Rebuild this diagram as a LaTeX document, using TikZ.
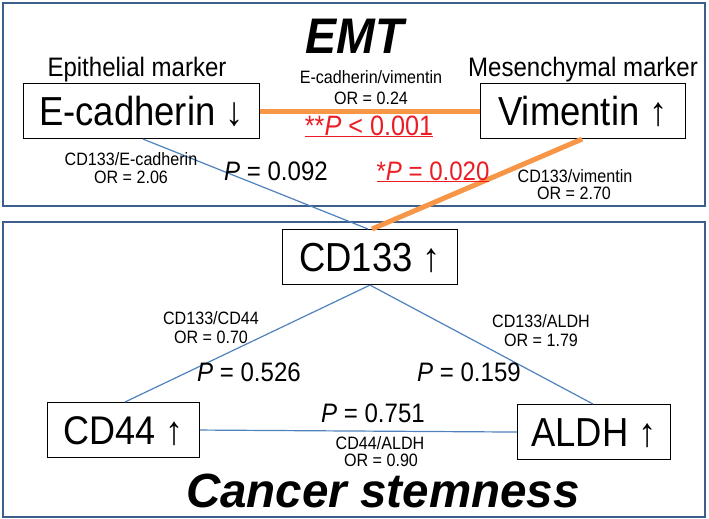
\documentclass[tikz,border=0pt]{standalone}
\usepackage{fontspec}
\setmainfont{Liberation Sans}
\usetikzlibrary{calc}
\definecolor{orng}{RGB}{247,150,70}
\definecolor{lblue}{RGB}{79,129,189}
\definecolor{frameblue}{RGB}{60,95,142}
\definecolor{pred}{RGB}{235,28,36}
\newcommand{\fsx}[3]{\scalebox{#2}[1]{\fontsize{#1pt}{#1pt}\selectfont #3}}
\begin{document}
\begin{tikzpicture}[x=1pt,y=-1pt,
  frame/.style={draw=frameblue,line width=2.2pt},
  box/.style={draw=black,line width=1.1pt,fill=white,inner sep=0pt,anchor=north west,text depth=0pt,text height=28.6pt},
  lbl/.style={inner sep=0pt,anchor=base},
  oline/.style={draw=orng,line width=5pt},
  bline/.style={draw=lblue,line width=1.2pt}]
\useasboundingbox (0,0) rectangle (709,519);
\draw[frame] (3,3) rectangle (705,206);
\draw[frame] (3,222) rectangle (705,517);
% titles
\node[lbl] (emt) at (355,54) {\fsx{50}{0.93}{\bfseries\itshape EMT}};
\node[lbl] (cs) at (383,507) {\fsx{48}{0.99}{\bfseries\itshape Cancer stemness}};
\node[lbl] (epi) at (137,77) {\fsx{26.7}{0.9}{Epithelial marker}};
\node[lbl] (mes) at (583,77) {\fsx{26.7}{0.9}{Mesenchymal marker}};
% boxes
\node[box,minimum width=236pt,minimum height=55pt] (ecad) at (23,83) {\fsx{40.5}{0.9}{E-cadherin ↓}};
\node[box,minimum width=205pt,minimum height=55pt] (vim) at (480,83) {\fsx{40.5}{0.9}{Vimentin ↑}};
\node[box,minimum width=175pt,minimum height=55pt] (cd133) at (282,229) {\fsx{40.5}{0.9}{CD133 ↑}};
\node[box,minimum width=152pt,minimum height=55pt] (cd44) at (47,402) {\fsx{40}{0.9}{CD44 ↑}};
\node[box,minimum width=153pt,minimum height=55pt] (aldh) at (517,404) {\fsx{40.5}{0.9}{ALDH ↑}};
% connectors
\draw[oline] (ecad.east) -- (vim.west);
\draw[bline] ($(ecad.south west)+(120,0)$) -- ($(cd133.north west)+(86,0)$);
\draw[oline] ($(vim.south west)+(102,0)$) -- ($(cd133.north west)+(90,0)$);
\draw[bline] ($(cd133.south west)+(88,0)$) -- ($(cd44.north west)+(78,0)$);
\draw[bline] ($(cd133.south west)+(88,0)$) -- ($(aldh.north west)+(76,0)$);
\draw[bline] (cd44.east) -- (aldh.west);
% labels top
\node[lbl] (l1a) at (371,84) {\fsx{17.9}{0.9}{E-cadherin/vimentin}};
\node[lbl] (l1b) at (371,104) {\fsx{17.9}{0.9}{OR = 0.24}};
\node[lbl,text=pred] (p1) at (369,135) {\fsx{28}{0.9}{\underline{**\textit{P} < 0.001}}};
\node[lbl] (l2a) at (131,165) {\fsx{17.9}{0.9}{CD133/E-cadherin}};
\node[lbl] (l2b) at (131,183) {\fsx{17.9}{0.9}{OR = 2.06}};
\node[lbl] (p2) at (276,180) {\fsx{26.7}{0.9}{\textit{P} = 0.092}};
\node[lbl,text=pred] (p3) at (433,180) {\fsx{26.7}{0.9}{\underline{*\textit{P} = 0.020}}};
\node[lbl] (l3a) at (575,182) {\fsx{17.9}{0.9}{CD133/vimentin}};
\node[lbl] (l3b) at (574,199) {\fsx{17.9}{0.9}{OR = 2.70}};
% labels bottom
\node[lbl] (l4a) at (211,324) {\fsx{17.9}{0.9}{CD133/CD44}};
\node[lbl] (l4b) at (211,343) {\fsx{17.9}{0.9}{OR = 0.70}};
\node[lbl] (p4) at (249,381) {\fsx{26.7}{0.9}{\textit{P} = 0.526}};
\node[lbl] (l5a) at (541,327) {\fsx{17.9}{0.9}{CD133/ALDH}};
\node[lbl] (l5b) at (541,346) {\fsx{17.9}{0.9}{OR = 1.79}};
\node[lbl] (p5) at (469,381) {\fsx{26.7}{0.9}{\textit{P} = 0.159}};
\node[lbl] (p6) at (373,422) {\fsx{26.7}{0.9}{\textit{P} = 0.751}};
\node[lbl] (l6a) at (380,449) {\fsx{17.9}{0.9}{CD44/ALDH}};
\node[lbl] (l6b) at (381,466) {\fsx{17.9}{0.9}{OR = 0.90}};
\end{tikzpicture}
\end{document}
